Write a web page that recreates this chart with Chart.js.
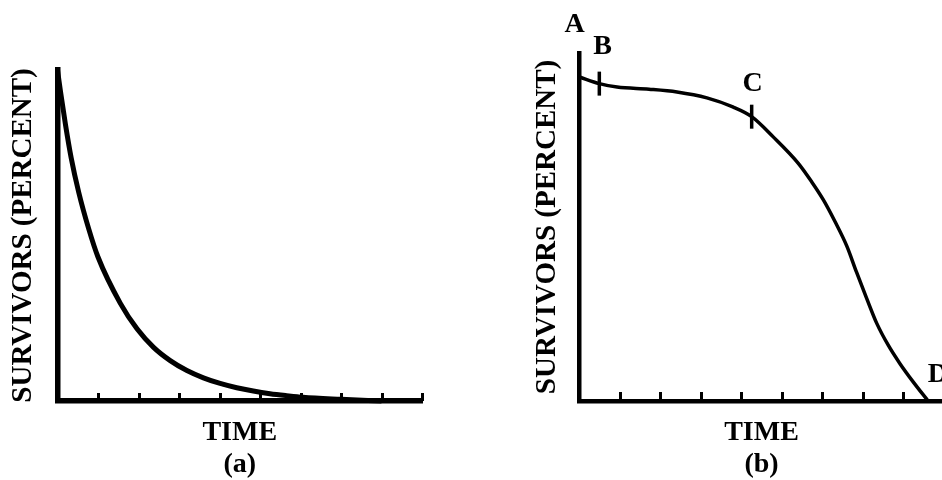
<!DOCTYPE html>
<html>
<head>
<meta charset="utf-8">
<title>Survivorship curves</title>
<script src="https://cdn.jsdelivr.net/npm/chart.js@4.4.1/dist/chart.umd.min.js"></script>
<style>
  html, body { margin: 0; padding: 0; background: #fff; overflow: hidden; }
  #wrap { position: relative; width: 942px; height: 480px; overflow: hidden; background: #fff; }
  #chartA { position: absolute; left: 0; top: 0; }
  #chartB { position: absolute; left: 471px; top: 0; }
</style>
</head>
<body>
<div id="wrap">
  <canvas id="chartA" width="471" height="490"></canvas>
  <canvas id="chartB" width="480" height="490"></canvas>
</div>
<script>
// Curve (a): heavy losses right from the start
var timeA = [0, 0.074, 0.197, 0.337, 0.525, 0.771, 1.0, 1.552, 1.963, 2.372, 2.783, 3.195, 3.603, 4.015, 4.426, 4.835, 5.246, 5.657, 6.06, 7, 8];
var survivorsA = [100, 93.5, 83.5, 73.5, 63.0, 52.0, 43.5, 29.5, 21.8, 16.2, 12.2, 9.2, 7.0, 5.3, 4.0, 3.0, 2.2, 1.6, 1.1, 0.5, 0];

// Curve (b): flat plateau, then a late drop
var timeB = [0, 0.49, 0.93, 1.72, 2.41, 3.15, 3.79, 4.257, 4.79, 5.41, 5.74, 6.03, 6.32, 6.61, 6.85, 7.10, 7.35, 7.63, 7.92, 8.25, 8.62];
var survivorsB = [93.1, 91.2, 90.2, 89.6, 88.8, 87.1, 84.5, 81.7, 75.9, 68.3, 63.0, 57.8, 51.5, 44.5, 37.0, 29.5, 22.3, 16.1, 10.8, 5.5, 0];

// cross marks B and C on curve (b)
var markTime = [0.49, 4.257];
var markSurvivors = [91.2, 81.7];

// letters along curve (b)
var letterText = ['A', 'B', 'C', 'D'];
var letterTime = [-0.12, 0.57, 4.28, 8.86];
var letterSurvivors = [108, 101.7, 91.1, 7.5];

var timeTicks = [1, 2, 3, 4, 5, 6, 7, 8, 9];
var panelNames = ['(a)', '(b)'];

var serif = "'Liberation Serif', 'Times New Roman', serif";

function toPoints(xs, ys) {
    return xs.map(function (x, i) { return { x: x, y: ys[i] }; });
}

// short upward ticks sitting on the time axis
var tickMarks = {
    id: 'tickMarks',
    afterDraw: function (chart, args, opts) {
        var ctx = chart.ctx;
        var xScale = chart.scales.x;
        var bottom = chart.chartArea.bottom;
        ctx.save();
        ctx.strokeStyle = '#000';
        ctx.lineWidth = 3;
        timeTicks.forEach(function (t) {
            var px = Math.round(xScale.getPixelForValue(t)) + 0.5;
            ctx.beginPath();
            ctx.moveTo(px, bottom);
            ctx.lineTo(px, bottom - opts.length);
            ctx.stroke();
        });
        ctx.restore();
    }
};

// point letters (A, B, C, D)
var letters = {
    id: 'letters',
    afterDraw: function (chart, args, opts) {
        if (!opts.show) return;
        var ctx = chart.ctx;
        ctx.save();
        ctx.fillStyle = '#000';
        ctx.font = 'bold 28px ' + serif;
        ctx.textAlign = 'center';
        ctx.textBaseline = 'middle';
        letterText.forEach(function (txt, i) {
            ctx.fillText(txt,
                chart.scales.x.getPixelForValue(letterTime[i]),
                chart.scales.y.getPixelForValue(letterSurvivors[i]));
        });
        ctx.restore();
    }
};

function crearPanel(id, cfg) {
    var datasets = [{
        data: toPoints(cfg.time, cfg.survivors),
        showLine: true,
        borderColor: '#000',
        borderWidth: cfg.curveWidth,
        pointRadius: 0,
        cubicInterpolationMode: 'monotone',
        clip: false
    }];
    if (cfg.marks) {
        datasets.push({
            data: toPoints(markTime, markSurvivors),
            showLine: false,
            pointStyle: 'line',
            rotation: 90,
            pointRadius: 12,
            borderColor: '#000',
            borderWidth: 3.5,
            clip: false
        });
    }

    return new Chart(document.getElementById(id), {
        type: 'scatter',
        data: { datasets: datasets },
        plugins: [tickMarks, letters],
        options: {
            responsive: false,
            animation: false,
            events: [],
            layout: { padding: cfg.padding, autoPadding: false },
            plugins: {
                legend: { display: false },
                tooltip: { enabled: false },
                tickMarks: { length: cfg.tickLength },
                letters: { show: !!cfg.marks }
            },
            scales: {
                x: {
                    type: 'linear',
                    min: 0,
                    max: 9,
                    grid: { display: false, drawTicks: false },
                    border: { display: true, color: '#000', width: cfg.axisWidth },
                    ticks: { display: false },
                    title: {
                        display: true,
                        text: ['TIME', cfg.name],
                        color: '#000',
                        font: { family: serif, size: 28, weight: 'bold', lineHeight: 32 / 28 },
                        padding: { top: 16, bottom: 0 }
                    }
                },
                y: {
                    type: 'linear',
                    min: 0,
                    max: 100,
                    grid: { display: false, drawTicks: false },
                    border: { display: true, color: '#000', width: cfg.axisWidth },
                    ticks: { display: false },
                    title: {
                        display: true,
                        text: 'SURVIVORS (PERCENT)',
                        color: '#000',
                        font: { family: serif, size: 29, weight: 'bold', lineHeight: 1 },
                        padding: cfg.yTitlePadding
                    }
                }
            }
        }
    });
}

crearPanel('chartA', {
    time: timeA,
    survivors: survivorsA,
    name: panelNames[0],
    curveWidth: 5,
    axisWidth: 5.5,
    tickLength: 8,
    padding: { left: 0, top: 70, right: 49, bottom: 9 },
    yTitlePadding: { top: 9.5, bottom: 19 }
});

crearPanel('chartB', {
    time: timeB,
    survivors: survivorsB,
    name: panelNames[1],
    curveWidth: 3.5,
    axisWidth: 4.5,
    tickLength: 9,
    marks: true,
    padding: { left: 48.5, top: 53, right: 7.5, bottom: 9 },
    yTitlePadding: { top: 14, bottom: 17 }
});
</script>
</body>
</html>
